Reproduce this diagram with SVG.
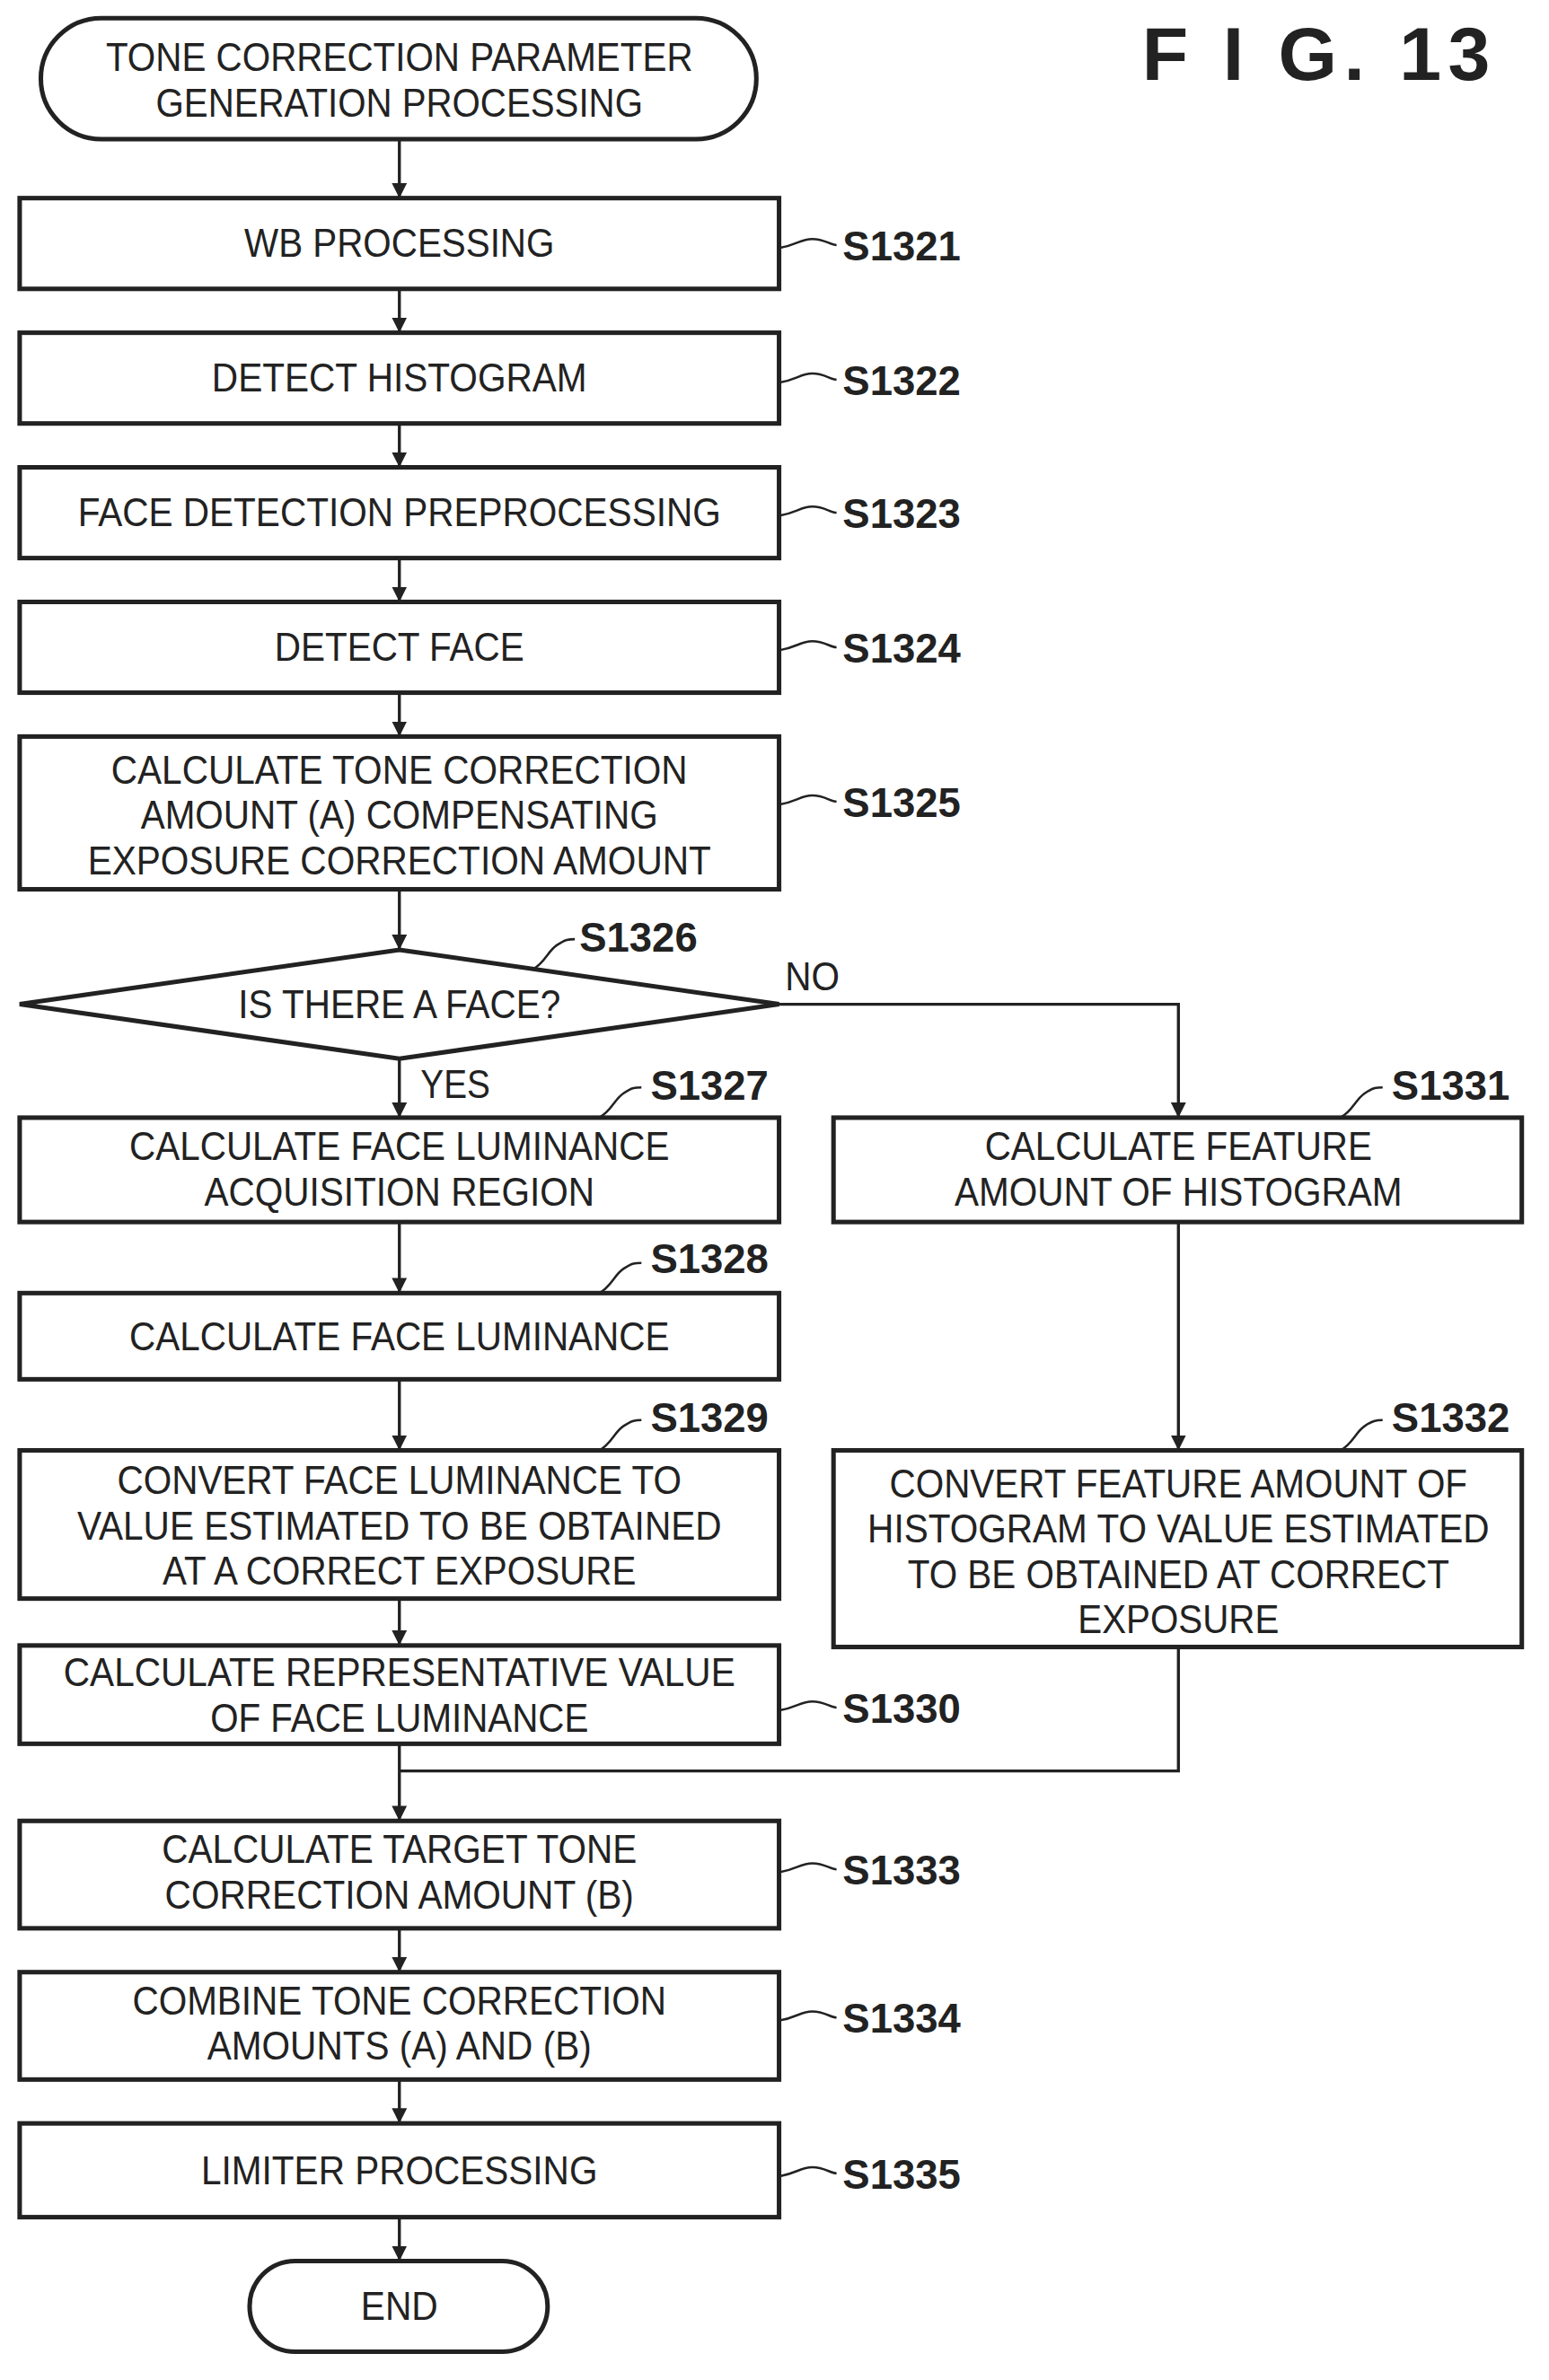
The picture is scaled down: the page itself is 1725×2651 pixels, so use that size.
<svg xmlns="http://www.w3.org/2000/svg" width="1725" height="2651" viewBox="0 0 1725 2651">
<defs>
<style>
.b{fill:#fff;stroke:#222;stroke-width:3}
.t{font-family:"Liberation Sans",Arial,sans-serif;font-size:26px;fill:#222;text-anchor:middle}
.l{font-family:"Liberation Sans",Arial,sans-serif;font-size:27px;font-weight:bold;fill:#222}
.c{fill:none;stroke:#222;stroke-width:2}
.q{fill:none;stroke:#222;stroke-width:1.5}
</style>
<marker id="a" viewBox="0 0 10 10" refX="10" refY="5" markerWidth="5" markerHeight="5" orient="auto"><path d="M0,0L10,5L0,10z" fill="#222"/></marker>
</defs>
<rect width="1725" height="2651" fill="#fff"/>
<g transform="scale(1.6846)">
<text x="755" y="53" style="font-family:'Liberation Sans',Arial,sans-serif;font-size:50px;font-weight:bold;fill:#222" textLength="230" lengthAdjust="spacing">F I G.  13</text>
<g id="connectors">
<path class="c" d="M264,92V131" marker-end="url(#a)"/>
<path class="c" d="M264,191V220" marker-end="url(#a)"/>
<path class="c" d="M264,280V309" marker-end="url(#a)"/>
<path class="c" d="M264,369V398" marker-end="url(#a)"/>
<path class="c" d="M264,458V487" marker-end="url(#a)"/>
<path class="c" d="M264,588V628" marker-end="url(#a)"/>
<path class="c" d="M264,700V739" marker-end="url(#a)"/>
<path class="c" d="M515,664H779V739" marker-end="url(#a)"/>
<path class="c" d="M264,808V855" marker-end="url(#a)"/>
<path class="c" d="M264,912V959" marker-end="url(#a)"/>
<path class="c" d="M264,1057V1088" marker-end="url(#a)"/>
<path class="c" d="M779,808V959" marker-end="url(#a)"/>
<path class="c" d="M779,1089V1171H264"/>
<path class="c" d="M264,1153V1204" marker-end="url(#a)"/>
<path class="c" d="M264,1275V1304" marker-end="url(#a)"/>
<path class="c" d="M264,1375V1404" marker-end="url(#a)"/>
<path class="c" d="M264,1466V1495" marker-end="url(#a)"/>
<text class="t" x="278" y="726" style="text-anchor:start" textLength="46" lengthAdjust="spacingAndGlyphs">YES</text>
<text class="t" x="519" y="655" style="text-anchor:start" textLength="36" lengthAdjust="spacingAndGlyphs">NO</text>
</g>
<g id="start"><rect class="b" x="27" y="12" width="473" height="80" rx="40"/>
<text class="t" x="264" y="47" textLength="388" lengthAdjust="spacingAndGlyphs">TONE CORRECTION PARAMETER</text>
<text class="t" x="264" y="77" textLength="322" lengthAdjust="spacingAndGlyphs">GENERATION PROCESSING</text></g>
<g id="s1321"><rect class="b" x="13" y="131" width="502" height="60"/>
<text class="t" x="264" y="170" textLength="205" lengthAdjust="spacingAndGlyphs">WB PROCESSING</text>
<path class="q" d="M515,164c12,-2 14,-6 22,-6s12,4 16,4"/><text class="l" x="557" y="172">S1321</text></g>
<g id="s1322"><rect class="b" x="13" y="220" width="502" height="60"/>
<text class="t" x="264" y="259" textLength="248" lengthAdjust="spacingAndGlyphs">DETECT HISTOGRAM</text>
<path class="q" d="M515,253c12,-2 14,-6 22,-6s12,4 16,4"/><text class="l" x="557" y="261">S1322</text></g>
<g id="s1323"><rect class="b" x="13" y="309" width="502" height="60"/>
<text class="t" x="264" y="348" textLength="425" lengthAdjust="spacingAndGlyphs">FACE DETECTION PREPROCESSING</text>
<path class="q" d="M515,341c12,-2 14,-6 22,-6s12,4 16,4"/><text class="l" x="557" y="349">S1323</text></g>
<g id="s1324"><rect class="b" x="13" y="398" width="502" height="60"/>
<text class="t" x="264" y="437" textLength="165" lengthAdjust="spacingAndGlyphs">DETECT FACE</text>
<path class="q" d="M515,430c12,-2 14,-6 22,-6s12,4 16,4"/><text class="l" x="557" y="438">S1324</text></g>
<g id="s1325"><rect class="b" x="13" y="487" width="502" height="101"/>
<text class="t" x="264" y="518" textLength="381" lengthAdjust="spacingAndGlyphs">CALCULATE TONE CORRECTION</text>
<text class="t" x="264" y="548" textLength="342" lengthAdjust="spacingAndGlyphs">AMOUNT (A) COMPENSATING</text>
<text class="t" x="264" y="578" textLength="412" lengthAdjust="spacingAndGlyphs">EXPOSURE CORRECTION AMOUNT</text>
<path class="q" d="M515,532c12,-2 14,-6 22,-6s12,4 16,4"/><text class="l" x="557" y="540">S1325</text></g>
<g id="s1326"><path class="b" d="M264,628L515,664L264,700L13,664z"/>
<text class="t" x="264" y="673" textLength="213" lengthAdjust="spacingAndGlyphs">IS THERE A FACE?</text>
<path class="q" d="M352,641c8,-4 10,-12 16,-16s8,-4 12,-4"/><text class="l" x="383" y="629">S1326</text></g>
<g id="s1327"><rect class="b" x="13" y="739" width="502" height="69"/>
<text class="t" x="264" y="767" textLength="357" lengthAdjust="spacingAndGlyphs">CALCULATE FACE LUMINANCE</text>
<text class="t" x="264" y="797" textLength="258" lengthAdjust="spacingAndGlyphs">ACQUISITION REGION</text>
<path class="q" d="M396,739c8,-4 10,-12 16,-16s8,-4 12,-4"/><text class="l" x="430" y="727">S1327</text></g>
<g id="s1331"><rect class="b" x="551" y="739" width="455" height="69"/>
<text class="t" x="779" y="767" textLength="256" lengthAdjust="spacingAndGlyphs">CALCULATE FEATURE</text>
<text class="t" x="779" y="797" textLength="296" lengthAdjust="spacingAndGlyphs">AMOUNT OF HISTOGRAM</text>
<path class="q" d="M886,739c8,-4 10,-12 16,-16s8,-4 12,-4"/><text class="l" x="920" y="727">S1331</text></g>
<g id="s1328"><rect class="b" x="13" y="855" width="502" height="57"/>
<text class="t" x="264" y="893" textLength="357" lengthAdjust="spacingAndGlyphs">CALCULATE FACE LUMINANCE</text>
<path class="q" d="M396,855c8,-4 10,-12 16,-16s8,-4 12,-4"/><text class="l" x="430" y="842">S1328</text></g>
<g id="s1329"><rect class="b" x="13" y="959" width="502" height="98"/>
<text class="t" x="264" y="988" textLength="373" lengthAdjust="spacingAndGlyphs">CONVERT FACE LUMINANCE TO</text>
<text class="t" x="264" y="1018" textLength="426" lengthAdjust="spacingAndGlyphs">VALUE ESTIMATED TO BE OBTAINED</text>
<text class="t" x="264" y="1048" textLength="313" lengthAdjust="spacingAndGlyphs">AT A CORRECT EXPOSURE</text>
<path class="q" d="M396,959c8,-4 10,-12 16,-16s8,-4 12,-4"/><text class="l" x="430" y="947">S1329</text></g>
<g id="s1332"><rect class="b" x="551" y="959" width="455" height="130"/>
<text class="t" x="779" y="990" textLength="382" lengthAdjust="spacingAndGlyphs">CONVERT FEATURE AMOUNT OF</text>
<text class="t" x="779" y="1020" textLength="411" lengthAdjust="spacingAndGlyphs">HISTOGRAM TO VALUE ESTIMATED</text>
<text class="t" x="779" y="1050" textLength="358" lengthAdjust="spacingAndGlyphs">TO BE OBTAINED AT CORRECT</text>
<text class="t" x="779" y="1080" textLength="133" lengthAdjust="spacingAndGlyphs">EXPOSURE</text>
<path class="q" d="M886,959c8,-4 10,-12 16,-16s8,-4 12,-4"/><text class="l" x="920" y="947">S1332</text></g>
<g id="s1330"><rect class="b" x="13" y="1088" width="502" height="65"/>
<text class="t" x="264" y="1115" textLength="444" lengthAdjust="spacingAndGlyphs">CALCULATE REPRESENTATIVE VALUE</text>
<text class="t" x="264" y="1145" textLength="250" lengthAdjust="spacingAndGlyphs">OF FACE LUMINANCE</text>
<path class="q" d="M515,1131c12,-2 14,-6 22,-6s12,4 16,4"/><text class="l" x="557" y="1139">S1330</text></g>
<g id="s1333"><rect class="b" x="13" y="1204" width="502" height="71"/>
<text class="t" x="264" y="1232" textLength="314" lengthAdjust="spacingAndGlyphs">CALCULATE TARGET TONE</text>
<text class="t" x="264" y="1262" textLength="310" lengthAdjust="spacingAndGlyphs">CORRECTION AMOUNT (B)</text>
<path class="q" d="M515,1238c12,-2 14,-6 22,-6s12,4 16,4"/><text class="l" x="557" y="1246">S1333</text></g>
<g id="s1334"><rect class="b" x="13" y="1304" width="502" height="71"/>
<text class="t" x="264" y="1332" textLength="353" lengthAdjust="spacingAndGlyphs">COMBINE TONE CORRECTION</text>
<text class="t" x="264" y="1362" textLength="254" lengthAdjust="spacingAndGlyphs">AMOUNTS (A) AND (B)</text>
<path class="q" d="M515,1336c12,-2 14,-6 22,-6s12,4 16,4"/><text class="l" x="557" y="1344">S1334</text></g>
<g id="s1335"><rect class="b" x="13" y="1404" width="502" height="62"/>
<text class="t" x="264" y="1444" textLength="262" lengthAdjust="spacingAndGlyphs">LIMITER PROCESSING</text>
<path class="q" d="M515,1439c12,-2 14,-6 22,-6s12,4 16,4"/><text class="l" x="557" y="1447">S1335</text></g>
<g id="end"><rect class="b" x="165" y="1495" width="197" height="60" rx="30"/>
<text class="t" x="264" y="1534" textLength="51" lengthAdjust="spacingAndGlyphs">END</text></g>
</g>
</svg>
